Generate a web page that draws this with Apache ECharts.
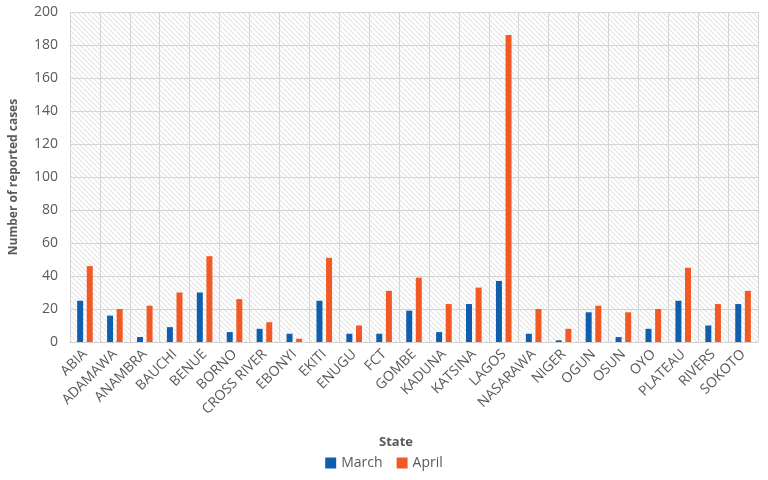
<!DOCTYPE html>
<html><head><meta charset="utf-8">
<script src="https://cdn.jsdelivr.net/npm/echarts@6/dist/echarts.min.js"></script>
<style>html,body{margin:0;padding:0;background:#fff}#c{width:768px;height:480px}</style>
</head><body><div id="c"></div>
<script>
const states = ['ABIA','ADAMAWA','ANAMBRA','BAUCHI','BENUE','BORNO','CROSS RIVER','EBONYI','EKITI','ENUGU','FCT','GOMBE','KADUNA','KATSINA','LAGOS','NASARAWA','NIGER','OGUN','OSUN','OYO','PLATEAU','RIVERS','SOKOTO'];
const march = [25,16,3,9,30,6,8,5,25,5,5,19,6,23,37,5,1,18,3,8,25,10,23];
const april = [46,20,22,30,52,26,12,2,51,10,31,39,23,33,186,20,8,22,18,20,45,23,31];
const yTicks = [0,20,40,60,80,100,120,140,160,180,200];

function hatch(){
  const c = document.createElement('canvas');
  c.width = 5; c.height = 5;
  const g = c.getContext('2d');
  g.fillStyle = '#ffffff'; g.fillRect(0,0,5,5);
  g.strokeStyle = '#e4e4e4'; g.lineWidth = 1.1;
  g.beginPath();
  g.moveTo(0,0); g.lineTo(5,5);
  g.moveTo(-2.5,2.5); g.lineTo(2.5,7.5);
  g.moveTo(2.5,-2.5); g.lineTo(7.5,2.5);
  g.stroke();
  return c;
}

const chart = echarts.init(document.getElementById('c'));
const font = 'Open Sans';
chart.setOption({
  animation:false,
  textStyle:{fontFamily:font},
  grid:{left:69,right:10,top:12,bottom:138,show:true,borderWidth:0,
        backgroundColor:{image:hatch(),repeat:'repeat'}},
  legend:{bottom:5,left:'center',itemWidth:11,itemHeight:11,itemGap:14,
          textStyle:{fontFamily:font,fontSize:14,color:'#595959'},
          data:[{name:'March',icon:'rect'},{name:'April',icon:'rect'}]},
  graphic:[{type:'text',left:379,top:436,style:{text:'State',font:'bold 13px "Open Sans"',fill:'#595959'}}],
  xAxis:{type:'category',data:states,
    axisLine:{lineStyle:{color:'#d0d0d0'}},
    axisTick:{show:false},
    splitLine:{show:true,lineStyle:{color:'#d4d4d4'}},
    axisLabel:{rotate:45,interval:0,fontSize:14,color:'#595959',margin:10,fontFamily:font}},
  yAxis:{type:'value',min:0,max:200,interval:20,
    name:'Number of reported cases',nameLocation:'middle',nameGap:50,
    nameTextStyle:{fontWeight:'bold',fontSize:12,color:'#595959',fontFamily:font},
    axisLine:{show:false},axisTick:{show:false},
    splitLine:{lineStyle:{color:'#d4d4d4'}},
    axisLabel:{fontSize:14,color:'#595959',margin:12,fontFamily:font,
      formatter:v=>yTicks.includes(v)?String(v):''}},
  series:[
    {name:'March',type:'bar',data:march,barWidth:6,barGap:'60%',itemStyle:{color:'#0F5FAE'}},
    {name:'April',type:'bar',data:april,barWidth:6,itemStyle:{color:'#F15A24'}}
  ]
});
</script></body></html>
